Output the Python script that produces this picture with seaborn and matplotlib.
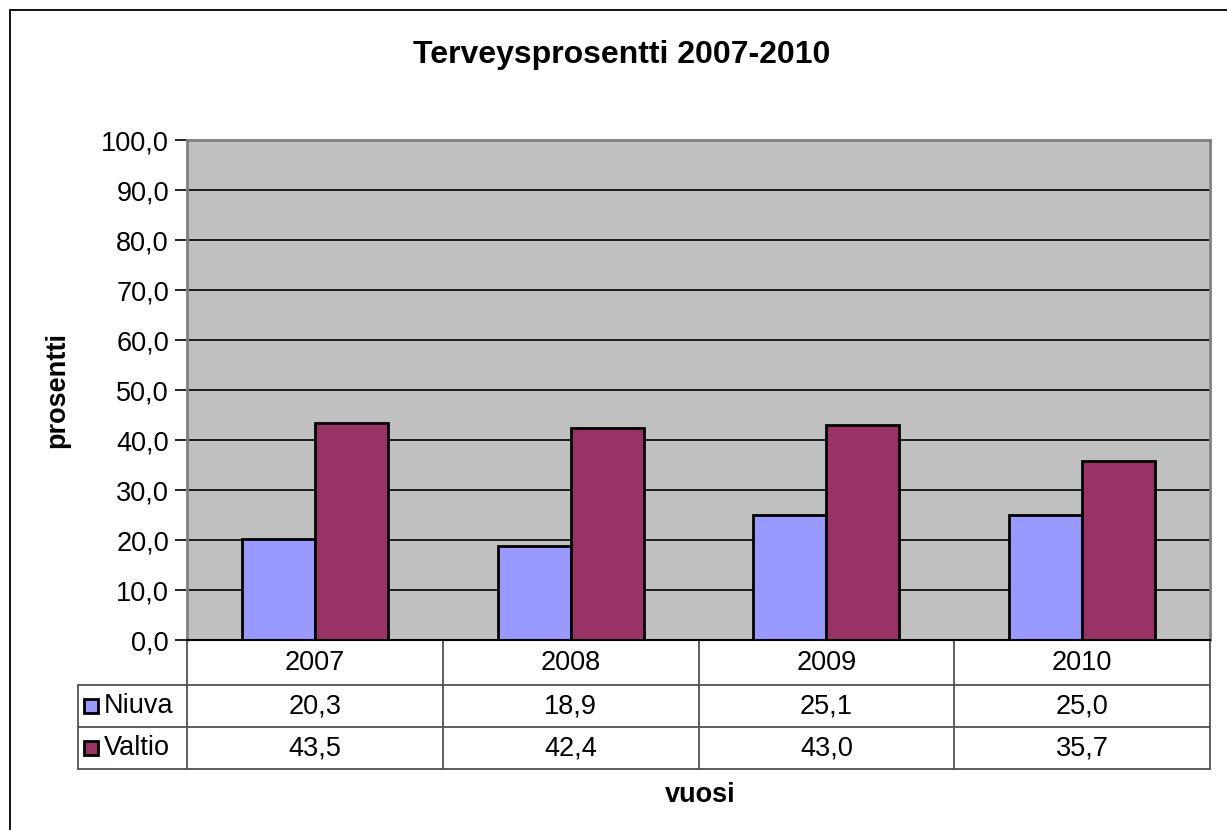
import matplotlib.pyplot as plt
import seaborn as sns
import pandas as pd
from matplotlib.patches import Rectangle
from matplotlib.lines import Line2D

years = ["2007", "2008", "2009", "2010"]
niuva = [20.3, 18.9, 25.1, 25.0]
valtio = [43.5, 42.4, 43.0, 35.7]
series = ["Niuva", "Valtio"]
colors = ["#9999FF", "#993366"]

df = pd.DataFrame({
    "vuosi": years * 2,
    "arvo": niuva + valtio,
    "sarja": ["Niuva"] * 4 + ["Valtio"] * 4,
})

sns.set_style("white")
plt.rcParams["font.family"] = ["Liberation Sans", "DejaVu Sans"]
plt.rcParams["text.color"] = "black"
plt.rcParams["ytick.color"] = "black"
plt.rcParams["ytick.labelcolor"] = "black"

FS = 19.5

W, H = 1227, 830
fig = plt.figure(figsize=(W / 100, H / 100), dpi=100)

def fx(px):
    return px / W

def fy(py):
    return 1 - py / H

left, right, top, bottom = 187, 1210, 140, 640
ax = fig.add_axes([fx(left), fy(bottom), fx(right - left), (bottom - top) / H])
ax.set_facecolor("#C0C0C0")

sns.barplot(data=df, x="vuosi", y="arvo", hue="sarja", palette=colors,
            width=0.57, edgecolor="black", linewidth=2, ax=ax, legend=False,
            saturation=1)

ax.set_xlim(-0.5, 3.5)
ax.set_ylim(0, 100)
ax.set_yticks(range(0, 101, 10))
ax.set_yticklabels([f"{v:.1f}".replace(".", ",") for v in range(0, 101, 10)], fontsize=FS)
ax.tick_params(axis="y", direction="out", length=9, width=1.2, color="black", pad=4, left=True)
ax.set_xticks([])
ax.set_xlabel("")
ax.set_ylabel("")
for v in range(10, 100, 10):
    ax.axhline(v, color="black", lw=1.2, zorder=0.5)
for s in ["top", "right", "left"]:
    ax.spines[s].set_color("#808080")
    ax.spines[s].set_linewidth(2)
ax.spines["bottom"].set_color("black")
ax.spines["bottom"].set_linewidth(1.5)

# data table under the chart
row_lines = [640, 685, 727, 769]
tcol = "#505050"
for i, py in enumerate(row_lines[1:]):
    fig.add_artist(Line2D([fx(78), fx(right)], [fy(py), fy(py)], color=tcol, lw=1.3, transform=fig.transFigure))
fig.add_artist(Line2D([fx(78), fx(78)], [fy(685), fy(769)], color=tcol, lw=1.3, transform=fig.transFigure))
trans = ax.get_xaxis_transform()
tb = -(769 - 640) / (bottom - top)
for b in [-0.5, 0.5, 1.5, 2.5, 3.5]:
    ax.plot([b, b], [0, tb], color=tcol, lw=1.3, transform=trans, clip_on=False)

def row_y(i):
    return -((row_lines[i] + row_lines[i + 1]) / 2 - 640) / (bottom - top)

for i, yr in enumerate(years):
    ax.text(i, row_y(0), yr, transform=trans, ha="center", va="center", fontsize=FS)
    ax.text(i, row_y(1), f"{niuva[i]:.1f}".replace(".", ","), transform=trans, ha="center", va="center", fontsize=FS)
    ax.text(i, row_y(2), f"{valtio[i]:.1f}".replace(".", ","), transform=trans, ha="center", va="center", fontsize=FS)

for k, (name, c) in enumerate(zip(series, colors)):
    cy = (row_lines[k + 1] + row_lines[k + 2]) / 2
    fig.add_artist(Rectangle((fx(84), fy(cy + 7)), fx(14), 14 / H, facecolor=c,
                             edgecolor="black", lw=2, transform=fig.transFigure))
    fig.text(fx(104), fy(cy), name, ha="left", va="center", fontsize=FS)

fig.text(fx(622), fy(55), "Terveysprosentti 2007-2010", ha="center", va="center",
         fontsize=23, fontweight="bold")
fig.text(fx(57), fy(390), "prosentti", ha="center", va="center", rotation=90,
         fontsize=FS, fontweight="bold")
fig.text(fx(700), fy(795), "vuosi", ha="center", va="center", fontsize=FS, fontweight="bold")

fig.add_artist(Rectangle((fx(10), fy(H + 20)), fx(W), (H + 10) / H, facecolor="none",
                         edgecolor="black", lw=1.3, transform=fig.transFigure))

fig.savefig("out.png", dpi=100)
